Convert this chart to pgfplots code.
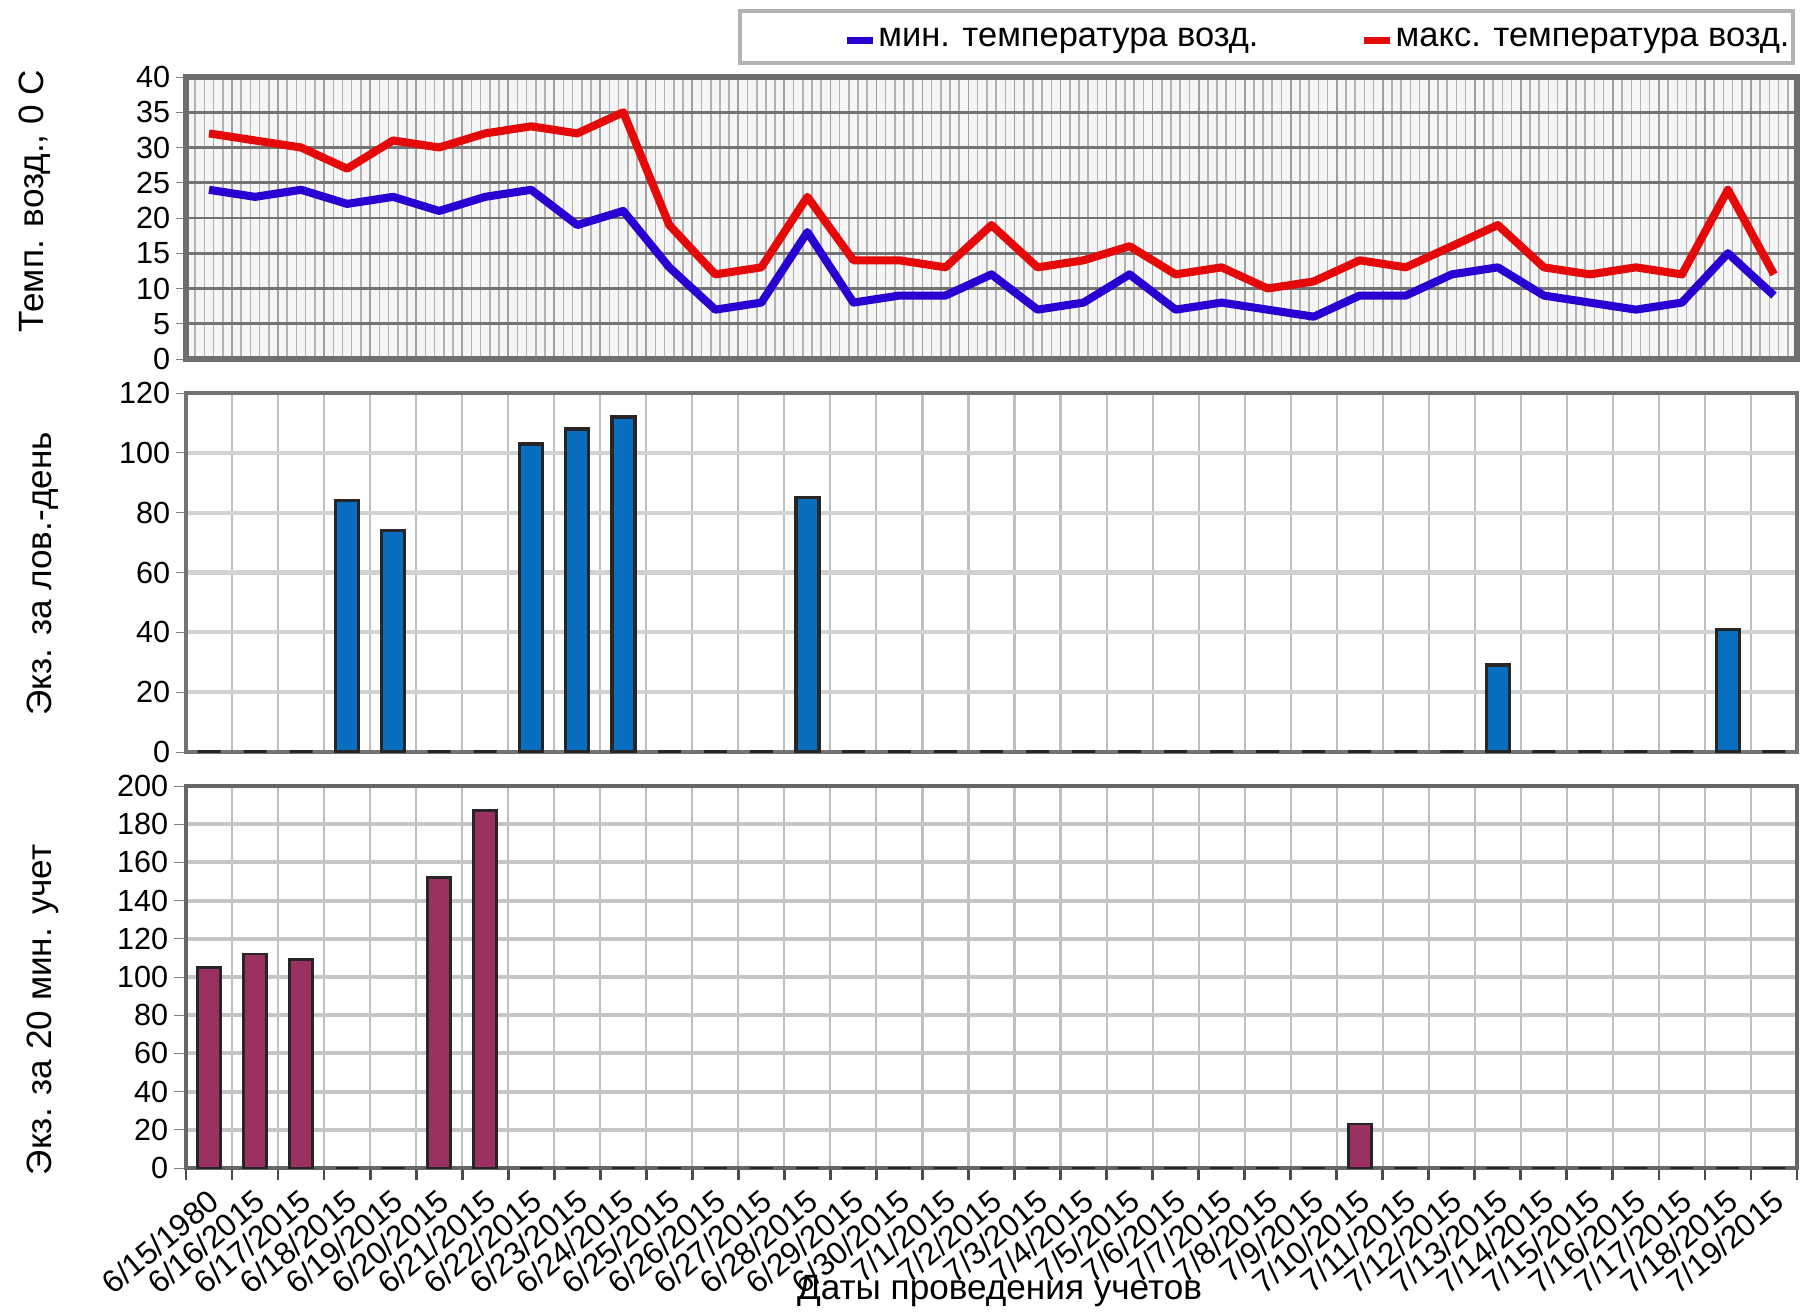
\documentclass[border=0pt]{standalone}
\usepackage{pgfplots}
\pgfplotsset{compat=1.18}
\usepackage{pgfplotstable}
\usepackage{fontspec}
\setmainfont{Liberation Sans}
\setsansfont{Liberation Sans}

\definecolor{tmin}{RGB}{40,0,210}
\definecolor{tmax}{RGB}{228,10,10}
\definecolor{barblue}{RGB}{10,110,192}
\definecolor{barplum}{RGB}{155,48,99}
\definecolor{framegray}{RGB}{110,110,110}

\pgfplotstableread{
x tmin tmax lov cnt
0 24 32 0 105
1 23 31 0 112
2 24 30 0 109
3 22 27 84 0
4 23 31 74 0
5 21 30 0 152
6 23 32 0 187
7 24 33 103 0
8 19 32 108 0
9 21 35 112 0
10 13 19 0 0
11 7 12 0 0
12 8 13 0 0
13 18 23 85 0
14 8 14 0 0
15 9 14 0 0
16 9 13 0 0
17 12 19 0 0
18 7 13 0 0
19 8 14 0 0
20 12 16 0 0
21 7 12 0 0
22 8 13 0 0
23 7 10 0 0
24 6 11 0 0
25 9 14 0 23
26 9 13 0 0
27 12 16 0 0
28 13 19 29 0
29 9 13 0 0
30 8 12 0 0
31 7 13 0 0
32 8 12 0 0
33 15 24 41 0
34 9 12 0 0
}\data

\pgfplotsset{
  panel/.style={
    scale only axis, width=16.11cm, anchor=south west,
    xmin=-0.5, xmax=34.5,
    /pgf/number format/assume math mode=true,
    ytick pos=left, tick align=outside,
    major tick length=0.1cm,
    yticklabel style={font=\fontsize{8.7}{10}\selectfont, inner sep=1.5pt},
    ylabel style={font=\fontsize{8.9}{11}\selectfont},
    ymajorgrids,
  },
}

\begin{document}
\begin{tikzpicture}
\path[use as bounding box] (0cm,0cm) rectangle (18cm,13.12cm);

% legend frame
\draw[gray!60, line width=0.9pt, fill=white] (7.40cm,12.49cm) rectangle (17.93cm,13.01cm);

% ---------- top: temperatures
\begin{axis}[panel,
  at={(1.86cm,9.53cm)}, height=2.82cm,
  ymin=0, ymax=40, ytick={0,5,...,40},
  axis background/.style={fill=gray!8},
  axis line style={draw=framegray, line width=1.6pt},
  xtick={-0.5,0.5,...,34.5}, xticklabels={},
  minor x tick num=4,
  xmajorgrids, xminorgrids,
  x tick style={draw=none},
  major grid style={draw=gray!75, line width=0.5pt},
  minor grid style={draw=gray!60, line width=0.45pt},
  y grid style={draw=black!55, line width=0.8pt},
  ylabel={Темп. возд., 0 С},
  every axis y label/.style={at={(axis description cs:-0.0937,0.56)}, rotate=90, anchor=center},
  legend columns=2,
  legend style={at={(axis description cs:0.401,1.131)}, anchor=west, draw=none, fill=none,
    font=\fontsize{9.8}{11}\selectfont, nodes={inner sep=0.6pt},
    /tikz/every even column/.append style={column sep=1.0cm}},
  legend image code/.code={\draw[#1, line width=2pt] (0cm,0cm) -- (0.26cm,0cm);},
]
\addplot[tmin, line width=2.3pt, line join=round] table[x=x, y=tmin] {\data};
\addlegendentry{мин. температура возд.}
\addplot[tmax, line width=2.3pt, line join=round] table[x=x, y=tmax] {\data};
\addlegendentry{макс. температура возд.}
\end{axis}

% ---------- middle: per trap-day
\begin{axis}[panel,
  at={(1.86cm,5.60cm)}, height=3.59cm,
  ymin=0, ymax=120, ytick={0,20,...,120},
  axis line style={draw=black!55, line width=1.2pt},
  xtick={-0.5,0.5,...,34.5}, xticklabels={},
  xmajorgrids, x tick style={draw=none},
  grid style={draw=gray!50, line width=0.6pt},
  y grid style={draw=gray!35, line width=1.2pt},
  ylabel={Экз. за лов.-день},
  every axis y label/.style={at={(axis description cs:-0.0887,0.496)}, rotate=90, anchor=center},
  ybar, bar width=0.23cm,
]
\addplot[fill=barblue, draw=black!85, line width=1pt] table[x=x, y=lov] {\data};
\end{axis}

% ---------- bottom: per 20 min count
\begin{axis}[panel,
  at={(1.86cm,1.44cm)}, height=3.82cm,
  ymin=0, ymax=200, ytick={0,20,...,200},
  axis line style={draw=black!60, line width=1.2pt},
  xtick={-0.5,0.5,...,34.5},
  xticklabels={6/15/1980,6/16/2015,6/17/2015,6/18/2015,6/19/2015,6/20/2015,6/21/2015,6/22/2015,6/23/2015,6/24/2015,6/25/2015,6/26/2015,6/27/2015,6/28/2015,6/29/2015,6/30/2015,7/1/2015,7/2/2015,7/3/2015,7/4/2015,7/5/2015,7/6/2015,7/7/2015,7/8/2015,7/9/2015,7/10/2015,7/11/2015,7/12/2015,7/13/2015,7/14/2015,7/15/2015,7/16/2015,7/17/2015,7/18/2015,7/19/2015,{}},
  xtick pos=bottom,
  x tick style={draw=black!70, line width=0.8pt},
  major tick length=0.12cm,
  xticklabel style={font=\fontsize{9}{10}\selectfont, rotate=40, anchor=north east, inner sep=1pt, yshift=-0.15cm, xshift=0.15cm},
  xmajorgrids,
  grid style={draw=gray!50, line width=0.6pt},
  y grid style={draw=gray!45, line width=1.1pt},
  ylabel={Экз. за 20 мин. учет},
  every axis y label/.style={at={(axis description cs:-0.0887,0.414)}, rotate=90, anchor=center},
  xlabel={Даты проведения учетов},
  every axis x label/.style={at={(axis description cs:0.505,-0.322)}, anchor=center, font=\fontsize{10}{12}\selectfont},
  ybar, bar width=0.23cm,
]
\addplot[fill=barplum, draw=black!85, line width=0.8pt] table[x=x, y=cnt] {\data};
\end{axis}
\end{tikzpicture}
\end{document}
